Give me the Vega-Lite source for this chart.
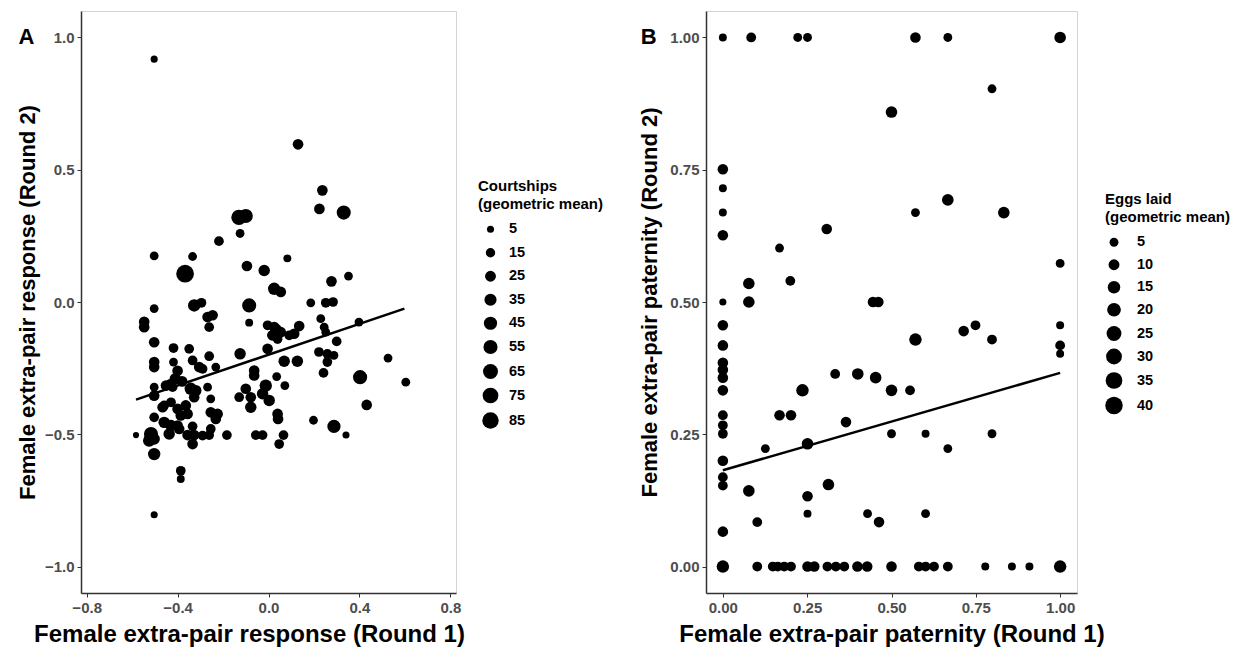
{
"$schema": "https://vega.github.io/schema/vega-lite/v6.json",
"background": "white",
"padding": {"left": 15, "top": 10, "right": 0, "bottom": 0},
"config": {
 "font": "Liberation Sans",
 "view": {"stroke": "#d4d4d4", "strokeWidth": 1},
 "axis": {"grid": false, "labelFont": "Liberation Sans", "labelFontWeight": "bold", "labelFontSize": 15, "labelColor": "#4d4d4d", "titleFont": "Liberation Sans", "titleFontWeight": "bold", "titleFontSize": 22, "titleColor": "#000000", "domainColor": "#333333", "domainWidth": 1.5, "tickColor": "#333333", "tickSize": 4, "labelPadding": 3, "titlePadding": 5},
 "axisX": {"titleFontSize": 24, "titlePadding": 7},
 "legend": {"titleFont": "Liberation Sans", "titleFontWeight": "bold", "titleFontSize": 15, "titleLineHeight": 18, "titleColor": "#000000", "labelFont": "Liberation Sans", "labelFontWeight": "bold", "labelFontSize": 14.5, "labelColor": "#000000", "labelOffset": 10, "symbolType": "circle", "symbolFillColor": "#000000", "symbolStrokeWidth": 0, "symbolOpacity": 1, "titlePadding": 10},
 "title": {"font": "Liberation Sans", "fontWeight": "bold", "fontSize": 22, "color": "#000000"}
},
"datasets": {
 "a": [
  {"r1": -0.503, "r2": 0.918, "c": 5}, {"r1": 0.130, "r2": 0.596, "c": 23}, {"r1": 0.237, "r2": 0.422, "c": 23}, {"r1": 0.224, "r2": 0.352, "c": 23},
  {"r1": 0.331, "r2": 0.338, "c": 55}, {"r1": -0.13, "r2": 0.32, "c": 70}, {"r1": -0.10, "r2": 0.325, "c": 55}, {"r1": -0.125, "r2": 0.259, "c": 12},
  {"r1": -0.218, "r2": 0.230, "c": 17}, {"r1": -0.503, "r2": 0.174, "c": 12}, {"r1": -0.334, "r2": 0.172, "c": 12}, {"r1": -0.367, "r2": 0.107, "c": 106},
  {"r1": -0.095, "r2": 0.136, "c": 23}, {"r1": -0.019, "r2": 0.119, "c": 29}, {"r1": 0.083, "r2": 0.165, "c": 8}, {"r1": 0.025, "r2": 0.05, "c": 37},
  {"r1": 0.054, "r2": 0.038, "c": 23}, {"r1": 0.277, "r2": 0.078, "c": 23}, {"r1": 0.352, "r2": 0.098, "c": 12}, {"r1": -0.503, "r2": -0.025, "c": 12},
  {"r1": -0.327, "r2": -0.013, "c": 37}, {"r1": -0.295, "r2": -0.003, "c": 17}, {"r1": -0.085, "r2": -0.013, "c": 55}, {"r1": 0.186, "r2": -0.003, "c": 12},
  {"r1": 0.252, "r2": -0.003, "c": 17}, {"r1": 0.284, "r2": 0.0, "c": 17}, {"r1": -0.547, "r2": -0.075, "c": 23}, {"r1": -0.547, "r2": -0.095, "c": 23},
  {"r1": -0.268, "r2": -0.057, "c": 23}, {"r1": -0.246, "r2": -0.05, "c": 23}, {"r1": -0.261, "r2": -0.095, "c": 17}, {"r1": -0.085, "r2": -0.078, "c": 8},
  {"r1": 0.025, "r2": -0.095, "c": 23}, {"r1": 0.017, "r2": -0.126, "c": 23}, {"r1": 0.054, "r2": -0.114, "c": 23}, {"r1": 0.135, "r2": -0.091, "c": 23},
  {"r1": 0.113, "r2": -0.12, "c": 23}, {"r1": 0.091, "r2": -0.126, "c": 17}, {"r1": 0.230, "r2": -0.063, "c": 12}, {"r1": 0.245, "r2": -0.095, "c": 12},
  {"r1": 0.252, "r2": -0.114, "c": 12}, {"r1": 0.398, "r2": -0.076, "c": 12}, {"r1": -0.503, "r2": -0.152, "c": 23}, {"r1": -0.418, "r2": -0.174, "c": 17},
  {"r1": -0.349, "r2": -0.177, "c": 17}, {"r1": -0.261, "r2": -0.205, "c": 17}, {"r1": -0.334, "r2": -0.221, "c": 17}, {"r1": -0.305, "r2": -0.246, "c": 23},
  {"r1": -0.29, "r2": -0.253, "c": 17}, {"r1": -0.232, "r2": -0.246, "c": 12}, {"r1": -0.503, "r2": -0.227, "c": 23}, {"r1": -0.503, "r2": -0.246, "c": 23},
  {"r1": -0.418, "r2": -0.227, "c": 12}, {"r1": -0.40, "r2": -0.26, "c": 23}, {"r1": -0.41, "r2": -0.29, "c": 29}, {"r1": -0.38, "r2": -0.30, "c": 23},
  {"r1": -0.43, "r2": -0.31, "c": 23}, {"r1": -0.451, "r2": -0.316, "c": 23}, {"r1": -0.422, "r2": -0.322, "c": 17}, {"r1": -0.503, "r2": -0.322, "c": 12},
  {"r1": -0.503, "r2": -0.354, "c": 23}, {"r1": -0.342, "r2": -0.328, "c": 37}, {"r1": -0.320, "r2": -0.335, "c": 29}, {"r1": -0.268, "r2": -0.322, "c": 12},
  {"r1": -0.125, "r2": -0.196, "c": 29}, {"r1": -0.004, "r2": -0.177, "c": 23}, {"r1": -0.004, "r2": -0.088, "c": 17}, {"r1": -0.063, "r2": -0.259, "c": 23},
  {"r1": -0.063, "r2": -0.278, "c": 23}, {"r1": 0.036, "r2": -0.282, "c": 12}, {"r1": 0.072, "r2": -0.316, "c": 12}, {"r1": 0.069, "r2": -0.224, "c": 29},
  {"r1": 0.127, "r2": -0.224, "c": 29}, {"r1": 0.222, "r2": -0.189, "c": 17}, {"r1": 0.259, "r2": -0.196, "c": 17}, {"r1": 0.288, "r2": -0.202, "c": 12},
  {"r1": 0.259, "r2": -0.227, "c": 17}, {"r1": 0.242, "r2": -0.268, "c": 17}, {"r1": 0.300, "r2": -0.149, "c": 17}, {"r1": 0.526, "r2": -0.212, "c": 12},
  {"r1": 0.403, "r2": -0.284, "c": 55}, {"r1": 0.604, "r2": -0.303, "c": 12}, {"r1": 0.432, "r2": -0.389, "c": 23}, {"r1": 0.198, "r2": -0.447, "c": 12},
  {"r1": 0.288, "r2": -0.470, "c": 46}, {"r1": 0.341, "r2": -0.503, "c": 5}, {"r1": -0.100, "r2": -0.328, "c": 23}, {"r1": -0.078, "r2": -0.36, "c": 23},
  {"r1": -0.129, "r2": -0.36, "c": 17}, {"r1": -0.078, "r2": -0.398, "c": 29}, {"r1": -0.012, "r2": -0.316, "c": 37}, {"r1": -0.026, "r2": -0.347, "c": 29},
  {"r1": 0.003, "r2": -0.372, "c": 29}, {"r1": 0.040, "r2": -0.423, "c": 23}, {"r1": 0.042, "r2": -0.442, "c": 23}, {"r1": 0.066, "r2": -0.503, "c": 17},
  {"r1": 0.047, "r2": -0.537, "c": 17}, {"r1": -0.056, "r2": -0.503, "c": 17}, {"r1": -0.026, "r2": -0.503, "c": 17}, {"r1": -0.183, "r2": -0.503, "c": 17},
  {"r1": -0.254, "r2": -0.417, "c": 23}, {"r1": -0.224, "r2": -0.423, "c": 23}, {"r1": -0.232, "r2": -0.442, "c": 23}, {"r1": -0.254, "r2": -0.366, "c": 12},
  {"r1": -0.254, "r2": -0.48, "c": 17}, {"r1": -0.261, "r2": -0.503, "c": 17}, {"r1": -0.290, "r2": -0.505, "c": 17}, {"r1": -0.327, "r2": -0.503, "c": 23},
  {"r1": -0.356, "r2": -0.503, "c": 23}, {"r1": -0.334, "r2": -0.47, "c": 17}, {"r1": -0.334, "r2": -0.537, "c": 23}, {"r1": -0.466, "r2": -0.398, "c": 23},
  {"r1": -0.429, "r2": -0.379, "c": 17}, {"r1": -0.40, "r2": -0.404, "c": 23}, {"r1": -0.364, "r2": -0.391, "c": 23}, {"r1": -0.386, "r2": -0.429, "c": 23},
  {"r1": -0.356, "r2": -0.423, "c": 23}, {"r1": -0.503, "r2": -0.436, "c": 17}, {"r1": -0.459, "r2": -0.455, "c": 29}, {"r1": -0.429, "r2": -0.467, "c": 29},
  {"r1": -0.40, "r2": -0.467, "c": 23}, {"r1": -0.437, "r2": -0.499, "c": 29}, {"r1": -0.393, "r2": -0.48, "c": 23}, {"r1": -0.583, "r2": -0.503, "c": 2.5},
  {"r1": -0.517, "r2": -0.499, "c": 55}, {"r1": -0.525, "r2": -0.524, "c": 37}, {"r1": -0.503, "r2": -0.518, "c": 29}, {"r1": -0.503, "r2": -0.575, "c": 37},
  {"r1": -0.386, "r2": -0.638, "c": 17}, {"r1": -0.386, "r2": -0.669, "c": 8}, {"r1": -0.503, "r2": -0.804, "c": 5}, {"r1": 0.036, "r2": -0.102, "c": 17},
  {"r1": 0.040, "r2": -0.14, "c": 17}, {"r1": -0.459, "r2": -0.391, "c": 17}, {"r1": -0.327, "r2": -0.36, "c": 23}
 ],
 "lineA": [{"r1": -0.583, "r2": -0.369}, {"r1": 0.598, "r2": -0.025}],
 "b": [
  {"p1": 0, "p2": 1.0, "e": 3.4}, {"p1": 0.084, "p2": 1.0, "e": 7}, {"p1": 0.222, "p2": 1.0, "e": 5}, {"p1": 0.251, "p2": 1.0, "e": 5},
  {"p1": 0.571, "p2": 1.0, "e": 9}, {"p1": 0.667, "p2": 1.0, "e": 5}, {"p1": 1.0, "p2": 1.0, "e": 12}, {"p1": 0.798, "p2": 0.903, "e": 5},
  {"p1": 0.5, "p2": 0.859, "e": 12}, {"p1": 0, "p2": 0.751, "e": 9}, {"p1": 0, "p2": 0.715, "e": 3.4}, {"p1": 0, "p2": 0.669, "e": 3.4},
  {"p1": 0, "p2": 0.626, "e": 9}, {"p1": 0.667, "p2": 0.693, "e": 12}, {"p1": 0.571, "p2": 0.669, "e": 5}, {"p1": 0.833, "p2": 0.669, "e": 12},
  {"p1": 0.308, "p2": 0.638, "e": 9}, {"p1": 0.168, "p2": 0.602, "e": 5}, {"p1": 1.0, "p2": 0.573, "e": 5}, {"p1": 0.077, "p2": 0.535, "e": 12},
  {"p1": 0.2, "p2": 0.540, "e": 7}, {"p1": 0, "p2": 0.50, "e": 2.2}, {"p1": 0.077, "p2": 0.50, "e": 12}, {"p1": 0.445, "p2": 0.5, "e": 9},
  {"p1": 0.461, "p2": 0.5, "e": 9}, {"p1": 0, "p2": 0.456, "e": 9}, {"p1": 0, "p2": 0.418, "e": 9}, {"p1": 0, "p2": 0.385, "e": 9},
  {"p1": 0, "p2": 0.372, "e": 9}, {"p1": 0, "p2": 0.357, "e": 9}, {"p1": 0, "p2": 0.333, "e": 9}, {"p1": 0, "p2": 0.286, "e": 7},
  {"p1": 0, "p2": 0.267, "e": 7}, {"p1": 0, "p2": 0.251, "e": 7}, {"p1": 0, "p2": 0.2, "e": 9}, {"p1": 0, "p2": 0.169, "e": 7},
  {"p1": 0, "p2": 0.153, "e": 7}, {"p1": 0, "p2": 0.066, "e": 9}, {"p1": 0, "p2": 0, "e": 15}, {"p1": 1.0, "p2": 0.456, "e": 3.4},
  {"p1": 1.0, "p2": 0.418, "e": 7}, {"p1": 1.0, "p2": 0.402, "e": 3.4}, {"p1": 0.714, "p2": 0.445, "e": 9}, {"p1": 0.749, "p2": 0.456, "e": 7},
  {"p1": 0.798, "p2": 0.429, "e": 7}, {"p1": 0.571, "p2": 0.429, "e": 15}, {"p1": 0.333, "p2": 0.364, "e": 7}, {"p1": 0.4, "p2": 0.364, "e": 12},
  {"p1": 0.453, "p2": 0.357, "e": 12}, {"p1": 0.5, "p2": 0.333, "e": 12}, {"p1": 0.555, "p2": 0.333, "e": 7}, {"p1": 0.236, "p2": 0.333, "e": 15},
  {"p1": 0.168, "p2": 0.286, "e": 9}, {"p1": 0.202, "p2": 0.286, "e": 9}, {"p1": 0.365, "p2": 0.273, "e": 9}, {"p1": 0.5, "p2": 0.251, "e": 5},
  {"p1": 0.601, "p2": 0.251, "e": 3.4}, {"p1": 0.798, "p2": 0.251, "e": 5}, {"p1": 0.126, "p2": 0.223, "e": 5}, {"p1": 0.251, "p2": 0.232, "e": 12},
  {"p1": 0.667, "p2": 0.223, "e": 5}, {"p1": 0.077, "p2": 0.143, "e": 12}, {"p1": 0.251, "p2": 0.133, "e": 9}, {"p1": 0.313, "p2": 0.155, "e": 12},
  {"p1": 0.102, "p2": 0.084, "e": 7}, {"p1": 0.251, "p2": 0.1, "e": 3.4}, {"p1": 0.429, "p2": 0.1, "e": 5}, {"p1": 0.463, "p2": 0.084, "e": 9},
  {"p1": 0.601, "p2": 0.1, "e": 5}, {"p1": 0.102, "p2": 0, "e": 7}, {"p1": 0.148, "p2": 0, "e": 7}, {"p1": 0.163, "p2": 0, "e": 7},
  {"p1": 0.182, "p2": 0, "e": 7}, {"p1": 0.202, "p2": 0, "e": 7}, {"p1": 0.251, "p2": 0, "e": 9}, {"p1": 0.271, "p2": 0, "e": 9},
  {"p1": 0.310, "p2": 0, "e": 7}, {"p1": 0.335, "p2": 0, "e": 7}, {"p1": 0.360, "p2": 0, "e": 7}, {"p1": 0.399, "p2": 0, "e": 9},
  {"p1": 0.428, "p2": 0, "e": 9}, {"p1": 0.5, "p2": 0, "e": 9}, {"p1": 0.581, "p2": 0, "e": 7}, {"p1": 0.601, "p2": 0, "e": 7},
  {"p1": 0.626, "p2": 0, "e": 7}, {"p1": 0.667, "p2": 0, "e": 7}, {"p1": 0.778, "p2": 0, "e": 3.4}, {"p1": 0.857, "p2": 0, "e": 3.4},
  {"p1": 0.909, "p2": 0, "e": 3.4}, {"p1": 1.0, "p2": 0, "e": 15}
 ],
 "lineB": [{"p1": 0.0, "p2": 0.182}, {"p1": 1.0, "p2": 0.366}]
},
"spacing": 33,
"resolve": {"scale": {"size": "independent", "x": "independent", "y": "independent"}, "legend": {"size": "independent"}},
"hconcat": [
 {
  "width": 375, "height": 582,
  "title": {"text": "A", "anchor": "start", "frame": "bounds", "offset": 0, "dy": 38, "dx": 2},
  "layer": [
   {
    "data": {"name": "a"},
    "mark": {"type": "circle", "color": "#000000", "opacity": 1},
    "encoding": {
     "x": {"field": "r1", "type": "quantitative", "scale": {"domain": [-0.825, 0.825], "nice": false, "zero": false}, "axis": {"title": "Female extra-pair response (Round 1)", "values": [-0.8, -0.4, 0, 0.4, 0.8], "format": ".1f", "titleX": 168}},
     "y": {"field": "r2", "type": "quantitative", "scale": {"domain": [-1.1, 1.1], "nice": false, "zero": false}, "axis": {"title": "Female extra-pair response (Round 2)", "values": [-1, -0.5, 0, 0.5, 1], "format": ".1f"}},
     "size": {"field": "c", "type": "quantitative", "scale": {"type": "pow", "exponent": 0.75, "domain": [5, 85], "range": [50, 269], "zero": false}, "legend": {"title": ["Courtships", "(geometric mean)"], "values": [5, 15, 25, 35, 45, 55, 65, 75, 85], "orient": "none", "legendX": 397, "legendY": 168, "rowPadding": 8.5, "symbolOffset": 4}}
    }
   },
   {
    "data": {"name": "lineA"},
    "mark": {"type": "line", "color": "#000000", "strokeWidth": 2.5},
    "encoding": {"x": {"field": "r1", "type": "quantitative"}, "y": {"field": "r2", "type": "quantitative"}}
   }
  ]
 },
 {
  "width": 371, "height": 582,
  "title": {"text": "B", "anchor": "start", "frame": "bounds", "offset": 0, "dy": 38, "dx": 2},
  "layer": [
   {
    "data": {"name": "b"},
    "mark": {"type": "circle", "color": "#000000", "opacity": 1},
    "encoding": {
     "x": {"field": "p1", "type": "quantitative", "scale": {"domain": [-0.05, 1.05], "nice": false, "zero": false}, "axis": {"title": "Female extra-pair paternity (Round 1)", "values": [0, 0.25, 0.5, 0.75, 1], "format": ".2f"}},
     "y": {"field": "p2", "type": "quantitative", "scale": {"domain": [-0.05, 1.05], "nice": false, "zero": false}, "axis": {"title": "Female extra-pair paternity (Round 2)", "values": [0, 0.25, 0.5, 0.75, 1], "format": ".2f", "titlePadding": 8}},
     "size": {"field": "e", "type": "quantitative", "scale": {"type": "pow", "exponent": 0.75, "domain": [5, 40], "range": [78.5, 305], "zero": false}, "legend": {"title": ["Eggs laid", "(geometric mean)"], "values": [5, 10, 15, 20, 25, 30, 35, 40], "orient": "none", "legendX": 399, "legendY": 181, "rowPadding": 7.5, "labelOffset": 14}}
    }
   },
   {
    "data": {"name": "lineB"},
    "mark": {"type": "line", "color": "#000000", "strokeWidth": 2.5},
    "encoding": {"x": {"field": "p1", "type": "quantitative"}, "y": {"field": "p2", "type": "quantitative"}}
   }
  ]
 }
]
}
